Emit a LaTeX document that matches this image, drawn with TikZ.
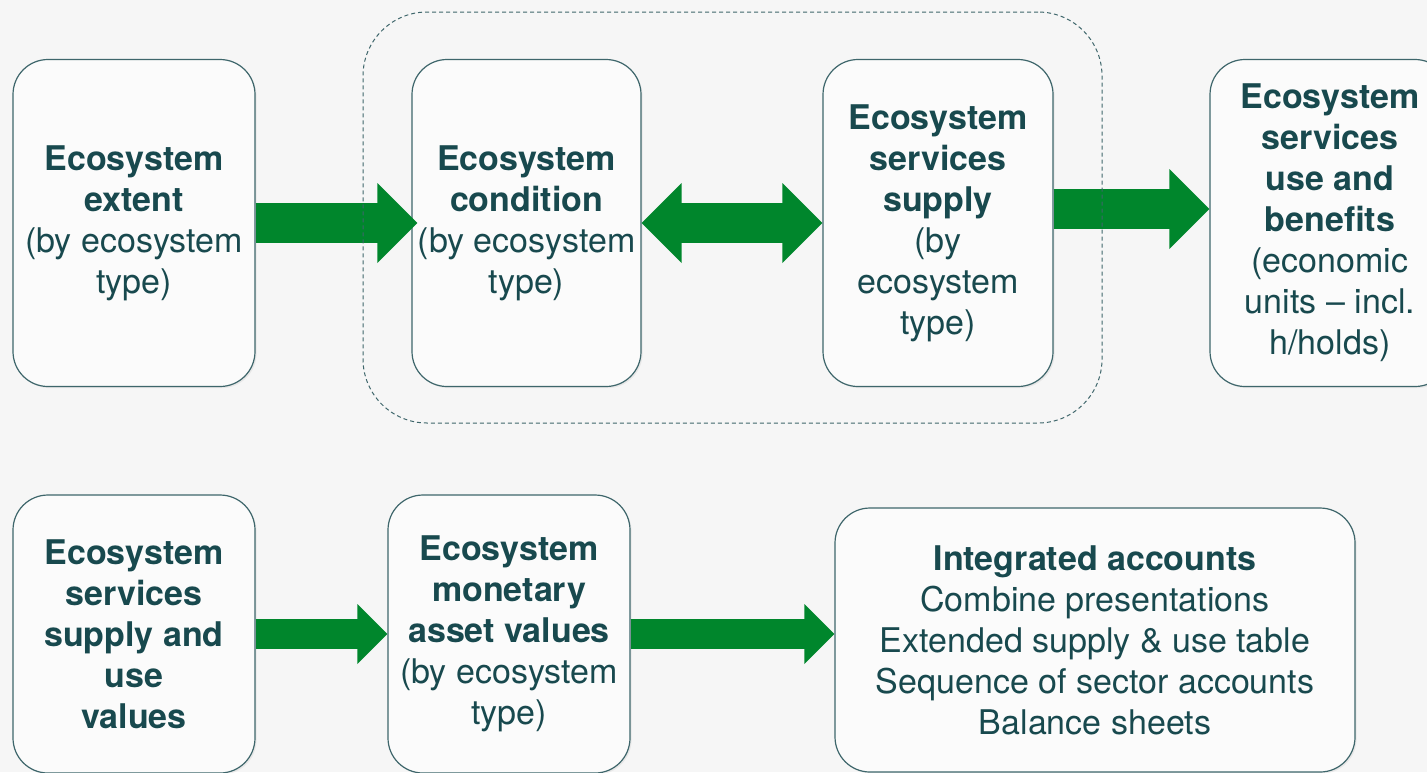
\documentclass[tikz,border=0pt]{standalone}
\usepackage{fontspec}
\setmainfont{TeX Gyre Heros}
\usetikzlibrary{arrows.meta,shadows}

\definecolor{bgcol}{RGB}{246,246,246}
\definecolor{boxfill}{RGB}{251,251,251}
\definecolor{boxline}{RGB}{62,102,107}
\definecolor{textcol}{RGB}{24,73,78}
\definecolor{flowgreen}{RGB}{0,134,44}

\begin{document}
\begin{tikzpicture}[
	x=0.5pt, y=-0.5pt,
	accbox/.style={draw=boxline, line width=0.6pt, fill=boxfill, rounded corners=17.5pt, inner sep=0pt, align=center, text=textcol, font=\fontsize{17}{20.5}\selectfont, drop shadow={opacity=0.12, shadow xshift=0.8pt, shadow yshift=-0.8pt}},
	groupbox/.style={draw=boxline, line width=0.5pt, dash pattern=on 2pt off 1.5pt, rounded corners=32pt, minimum width=369.5pt, minimum height=205.5pt},
	bigflow/.style={flowgreen, line width=20pt, -{bighead}, postaction={draw, -, shorten >=15pt}},
	bigboth/.style={flowgreen, line width=20pt, {bighead}-{bighead}, postaction={draw, -, shorten >=15pt, shorten <=15pt}},
	smallflow/.style={flowgreen, line width=15pt, -{smallhead}, postaction={draw, -, shorten >=11pt}},
	bighead/.tip={Triangle[length=20pt, width=40pt, line width=0pt]},
	smallhead/.tip={Triangle[length=15pt, width=30pt, line width=0pt]},
	]
	%Background
	\fill[bgcol, use as bounding box] (0,0) rectangle (1427,772);
	\clip (0,0) rectangle (1427,772);
	
	%Nodes
	\node[accbox, minimum width=121pt, minimum height=163.5pt]   (ext)  at (134,223)    {\textbf{Ecosystem}\\\textbf{extent}\\(by ecosystem\\type)};
	\node[accbox, minimum width=114.5pt, minimum height=163.5pt] (cond) at (526.5,223)  {\textbf{Ecosystem}\\\textbf{condition}\\(by ecosystem\\type)};
	\node[accbox, minimum width=115pt, minimum height=163.5pt]   (supp) at (938,223)    {\textbf{Ecosystem}\\\textbf{services}\\\textbf{supply}\\(by\\ecosystem\\type)};
	\node[accbox, minimum width=120pt, minimum height=163.5pt]   (use)  at (1330,223)   {\textbf{Ecosystem}\\\textbf{services}\\\textbf{use and}\\\textbf{benefits}\\(economic\\units -- incl.\\h/holds)};
	
	\node[accbox, minimum width=121pt, minimum height=139pt]     (val)  at (134,634)    {\textbf{Ecosystem}\\\textbf{services}\\\textbf{supply and}\\\textbf{use}\\\textbf{values}};
	\node[accbox, minimum width=121pt, minimum height=139pt]     (mon)  at (509,634)    {\textbf{Ecosystem}\\\textbf{monetary}\\\textbf{asset values}\\(by ecosystem\\type)};
	\node[accbox, minimum width=260pt, minimum height=132pt]     (integ) at (1095,640)  {\textbf{Integrated accounts}\\Combine presentations\\Extended supply \& use table\\Sequence of sector accounts\\Balance sheets};
	
	%Lines
	\draw[bigflow, shorten >=-3pt] (ext) -- (cond);
	\draw[bigboth] (cond) -- (supp);
	\draw[bigflow] ([yshift=7pt]supp.east) -- ([yshift=7pt]use.west);
	\draw[smallflow] (val) -- (mon);
	\draw[smallflow] (mon.east) -- (mon.east -| integ.west);
	
	%Group
	\node[groupbox] (grp) at (732.5,217.5) {};
\end{tikzpicture}
\end{document}
